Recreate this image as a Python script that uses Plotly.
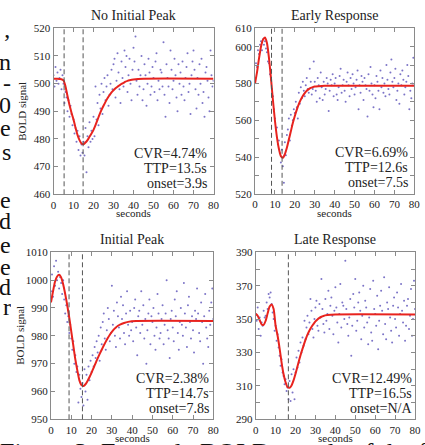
import plotly.graph_objects as go

W, H = 425, 445

# sampling grid of the BOLD time series (0.5 s)
TIME = [i / 2 for i in range(161)]

TITLES = ["No Initial Peak", "Early Response", "Initial Peak", "Late Response"]
STATS = [
    ["CVR=4.74%", "TTP=13.5s", "onset=3.9s"],
    ["CVR=6.69%", "TTP=12.6s", "onset=7.5s"],
    ["CVR=2.38%", "TTP=14.7s", "onset=7.8s"],
    ["CVR=12.49%", "TTP=16.5s", "onset=N/A"],
]
Y_RANGES = [[460, 520], [520, 610], [950, 1010], [290, 390]]
Y_TICKS = [
    [460, 470, 480, 490, 500, 510, 520],
    [520, 530, 540, 550, 560, 570, 580, 590, 600, 610],
    [950, 960, 970, 980, 990, 1000, 1010],
    [290, 300, 310, 320, 330, 340, 350, 360, 370, 380, 390],
]
Y_TICKTEXT = [
    ["460", "470", "480", "490", "500", "510", "520"],
    ["520", "", "540", "", "560", "", "580", "", "600", "610"],
    ["950", "960", "970", "980", "990", "1000", "1010"],
    ["290", "", "310", "", "330", "", "350", "", "370", "", "390"],
]
X_TICKS = [0, 10, 20, 30, 40, 50, 60, 70, 80]
DASH_LINES = [[5.3, 14.8], [8.3, 13.6], [8.9, 15.5], [16.4]]

# fitted curves
C1_T = list(range(0, 39)) + [40, 45, 80]
C1_Y = [501.8, 501.8, 501.8, 501.7, 501.6, 501.2, 499.0, 495.5, 492.3, 489.5,
        487.0, 484.1, 481.5, 479.6, 478.4, 478.1, 478.7, 479.6, 480.8, 482.0,
        483.3, 485.0, 486.9, 488.8, 490.5, 492.0, 493.4, 494.7, 495.8, 496.8,
        497.6, 498.3, 498.9, 499.4, 499.9, 500.3, 500.7, 501.0, 501.2,
        501.5, 501.8, 501.8]
C2_T = list(range(0, 31)) + [32, 35, 80]
C2_Y = [580, 586, 593.5, 600, 603.8, 605, 602, 594, 583, 571,
        560, 551, 544.5, 540.5, 539.6, 541.5, 545, 549.5, 554, 558.5,
        562.3, 565.8, 568.8, 571.2, 573.2, 574.8, 576, 576.9, 577.6, 578,
        578.3, 578.5, 578.7, 578.7]
C3_T = list(range(0, 35)) + [36, 38, 42, 80]
C3_Y = [992, 996, 999.5, 1001.3, 1001.9, 1001, 998.5, 995, 991, 986.5,
        981.5, 976.5, 971.5, 967.5, 964, 962.3, 962, 962.6, 963.8, 965.2,
        966.8, 968.5, 970.2, 971.9, 973.5, 975, 976.5, 977.9, 979.2, 980.4,
        981.4, 982.3, 983, 983.6, 984, 984.6, 985, 985.3, 985.3]
C4_T = list(range(0, 35)) + [36, 40, 80]
C4_Y = [353.2, 352, 349.3, 346.8, 346.6, 349, 353.5, 357.5, 358.8, 356,
        346, 340, 332.5, 324, 317, 312.2, 309.3, 308.9, 310.3, 313.3,
        317.3, 321.8, 326.2, 330.3, 334, 337.6, 340.7, 343.2, 345.3, 347,
        348.6, 349.8, 350.7, 351.4, 351.9, 352.4, 352.8, 352.8]

# measured BOLD samples
D1 = [503, 499, 506, 501, 504, 500, 502, 505, 498, 503,
      500, 493, 497, 495, 490, 494, 488, 492, 489, 485,
      487, 482, 484, 479, 483, 476, 481, 474, 478, 475,
      479, 474, 484, 468, 481, 477, 486, 479, 483, 480,
      488, 481, 499, 487, 493, 485, 496, 491, 500, 489,
      497, 502, 494, 499, 503, 492, 496, 500, 505, 498,
      507, 509, 495, 501, 511, 504, 498, 493, 508, 502,
      499, 512, 506, 510, 497, 503, 509, 500, 494, 505,
      513, 508, 517, 501, 496, 505, 499, 503, 510, 494,
      498, 507, 503, 492, 500, 509, 504, 496, 499, 506,
      502, 497, 508, 511, 494, 501, 498, 505, 504, 499,
      515, 496, 488, 507, 502, 499, 493, 512, 505, 498,
      501, 509, 503, 495, 490, 507, 500, 504, 496, 508,
      499, 494, 502, 506, 511, 497, 500, 489, 503, 508,
      512, 505, 498, 491, 502, 496, 507, 500, 509, 493,
      497, 488, 504, 506, 501, 495, 490, 512, 503, 499,
      501]
D2 = [583, 591, 589, 598, 596, 601, 603, 598, 604, 601,
      603, 599, 597, 592, 591, 585, 582, 577, 573, 566,
      561, 555, 556, 547, 549, 542, 537, 544, 535, 526,
      548, 541, 552, 555, 561, 549, 563, 557, 560, 566,
      564, 570, 567, 561, 575, 569, 578, 572, 581, 576,
      573, 579, 583, 577, 575, 588, 581, 574, 577, 592,
      581, 576, 570, 583, 579, 572, 586, 578, 571, 581,
      574, 577, 583, 580, 565, 576, 582, 579, 585, 573,
      580, 583, 574, 571, 578, 584, 588, 575, 579, 582,
      576, 570, 581, 586, 579, 573, 583, 577, 585, 580,
      574, 578, 582, 587, 566, 579, 575, 584, 581, 571,
      583, 579, 577, 562, 585, 576, 589, 580, 574, 567,
      579, 572, 584, 581, 576, 566, 587, 578, 583, 575,
      580, 573, 590, 582, 577, 574, 586, 593, 581, 578,
      583, 588, 571, 576, 580, 569, 585, 579, 587, 582,
      574, 578, 581, 590, 584, 566, 576, 572, 580, 594,
      579]
D3 = [996, 1002, 994, 1005, 998, 1007, 1000, 1003, 997, 1001,
      999, 995, 1000, 993, 988, 991, 985, 987, 981, 984,
      979, 975, 978, 970, 973, 967, 969, 956, 966, 961,
      958, 963, 955, 968, 960, 966, 957, 969, 964, 971,
      967, 973, 969, 976, 972, 978, 974, 980, 971, 983,
      977, 985, 988, 979, 975, 982, 990, 986, 978, 981,
      998, 984, 989, 980, 976, 992, 987, 983, 979, 994,
      986, 991, 981, 977, 988, 996, 984, 980, 989, 982,
      985, 978, 990, 993, 983, 973, 987, 989, 981, 996,
      984, 991, 979, 986, 970, 982, 988, 993, 977, 987,
      985, 990, 980, 975, 983, 995, 988, 979, 981, 986,
      991, 977, 984, 988, 1000, 982, 979, 972, 986, 989,
      983, 978, 993, 987, 996, 981, 975, 985, 990, 984,
      980, 999, 988, 983, 976, 991, 994, 985, 979, 987,
      982, 974, 989, 986, 997, 988, 981, 978, 992, 985,
      970, 987, 995, 983, 979, 976, 989, 984, 992, 997,
      986]
D4 = [353, 349, 357, 344, 351, 340, 348, 346, 355, 351,
      352, 360, 356, 365, 363, 366, 359, 354, 350, 343,
      346, 337, 341, 333, 328, 322, 326, 318, 316, 311,
      314, 307, 309, 302, 313, 301, 317, 306, 320, 302,
      318, 327, 321, 331, 324, 336, 330, 339, 334, 349,
      338, 345, 352, 341, 348, 362, 355, 344, 339, 350,
      357, 361, 346, 343, 359, 351, 374, 356, 347, 342,
      362, 349, 353, 367, 344, 358, 363, 352, 341, 355,
      369, 357, 348, 336, 353, 371, 345, 360, 358, 350,
      385, 356, 347, 340, 351, 362, 328, 346, 365, 357,
      374, 343, 349, 360, 366, 355, 338, 352, 370, 345,
      361, 357, 348, 335, 351, 368, 342, 337, 373, 356,
      353, 346, 364, 332, 349, 358, 367, 355, 341, 375,
      347, 338, 360, 356, 369, 351, 343, 336, 358, 363,
      350, 345, 366, 357, 340, 353, 371, 355, 348, 361,
      337, 346, 358, 362, 344, 352, 368, 340, 350, 373,
      356]

# page text cut off around the figure
SIDE_TEXT = ["\u2019", "n", "-", "0", "e", "s", "e", "d", "e", "e", "d", "r"]
SIDE_Y = [42, 62, 83, 105, 128, 152, 200, 221, 245, 267, 287, 307]
CAPTION = "Figure 3: Example BOLD voxels of the four kinds"

CURVES = [(C1_T, C1_Y), (C2_T, C2_Y), (C3_T, C3_Y), (C4_T, C4_Y)]
DOTS = [D1, D2, D3, D4]

# panel frames in pixels: left, right, top, bottom
BOXES = [(53.5, 213.5, 28.3, 194.3), (255, 414.3, 28.3, 193.8),
         (51, 213.3, 252.3, 419.3), (255.7, 415, 252.3, 419.3)]
STAT_RIGHT = [209, 410, 211, 413.5]


def px(x):
    return x / W


def py(y):
    return 1 - y / H


def note(text, x, y, size, xanchor="center", yanchor="middle", **kw):
    return dict(text=text, x=px(x), y=py(y), xref="paper", yref="paper",
                xanchor=xanchor, yanchor=yanchor, showarrow=False,
                font=dict(family=SERIF, size=size, color=kw.pop("color", "#222")), **kw)


SERIF = "Liberation Serif"
FRAME = "#8a8a8a"

fig = go.Figure()
annotations = []
shapes = []

for k in range(4):
    n = "" if k == 0 else str(k + 1)
    xa, ya = "x" + n, "y" + n
    l, r, t, b = BOXES[k]

    fig.add_trace(go.Scatter(
        x=TIME, y=DOTS[k], mode="markers", xaxis=xa, yaxis=ya,
        marker=dict(size=2, color="rgba(80,70,180,0.75)"),
        showlegend=False, hoverinfo="skip"))
    fig.add_trace(go.Scatter(
        x=CURVES[k][0], y=CURVES[k][1], mode="lines", xaxis=xa, yaxis=ya,
        line=dict(color="#e8231e", width=2, shape="spline", smoothing=0.6),
        showlegend=False, hoverinfo="skip"))

    for xv in DASH_LINES[k]:
        shapes.append(dict(type="line", xref=xa, yref=ya + " domain",
                           x0=xv, x1=xv, y0=0, y1=1,
                           line=dict(color="#555555", width=1, dash="5px,3px")))

    axis_common = dict(showline=True, linecolor=FRAME, linewidth=1, mirror="allticks",
                       ticks="inside", ticklen=4, tickcolor=FRAME, showgrid=False,
                       zeroline=False, automargin=False,
                       tickfont=dict(family=SERIF, size=11, color="#222"))
    fig.update_layout(**{
        "xaxis" + n: dict(domain=[px(l), px(r)], range=[0, 80], tickvals=X_TICKS,
                          anchor=ya, **axis_common),
        "yaxis" + n: dict(domain=[py(b), py(t)], range=Y_RANGES[k], tickvals=Y_TICKS[k],
                          ticktext=Y_TICKTEXT[k], anchor=xa, **axis_common),
    })

    annotations.append(note(TITLES[k], (l + r) / 2, t - 13, 14))
    annotations.append(note("seconds", (l + r) / 2, b + 19, 11))
    if k in (0, 2):
        annotations.append(note("BOLD signal", l - 31, (t + b) / 2, 11, textangle=-90))
    for i, s in enumerate(STATS[k]):
        annotations.append(note(s, STAT_RIGHT[k], b - 41 + 15 * i, 14, xanchor="right"))

for s, y in zip(SIDE_TEXT, SIDE_Y):
    annotations.append(note(s, 13, y, 24, xanchor="right", height=18, color="#111"))
annotations.append(note(CAPTION, -2, 436, 26, xanchor="left", yanchor="top", color="#111"))

fig.update_layout(
    width=W, height=H,
    margin=dict(l=0, r=0, t=0, b=0),
    paper_bgcolor="white",
    plot_bgcolor="white",
    annotations=annotations,
    shapes=shapes,
)

# the page body has a default 8px margin; drop it so the figure fills the window
fig.write_html("out.html", config={"displayModeBar": False},
               post_script="document.body.style.margin='0';"
                           "document.body.style.overflow='hidden';")
